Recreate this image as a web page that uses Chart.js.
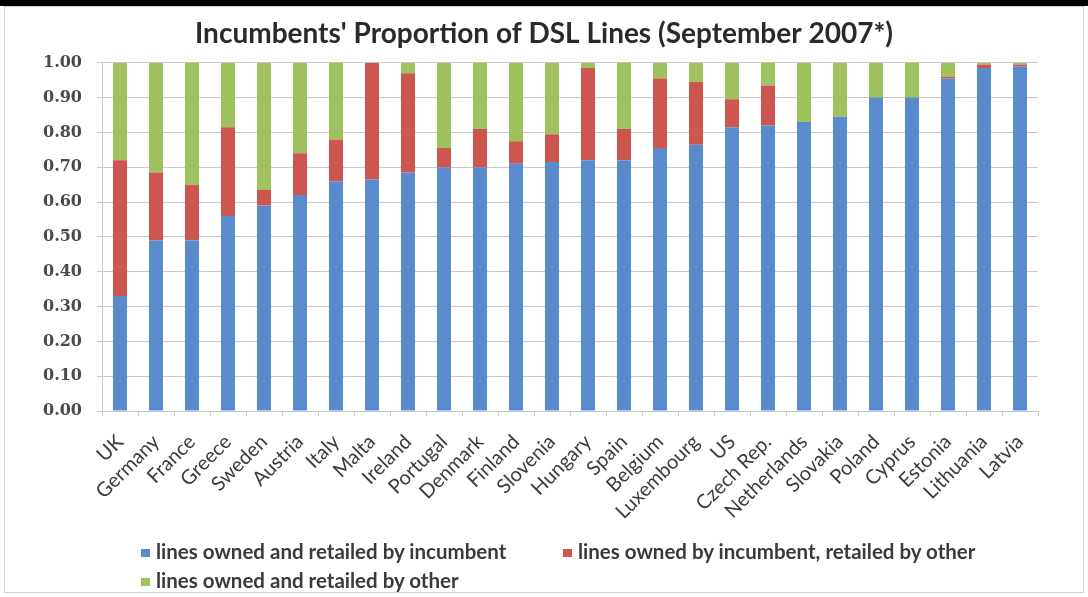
<!DOCTYPE html>
<html>
<head>
<meta charset="utf-8">
<title>Incumbents' Proportion of DSL Lines</title>
<script src="https://cdn.jsdelivr.net/npm/chart.js@4.4.1/dist/chart.umd.min.js"></script>
<style>
  html, body { margin: 0; padding: 0; background: #fff; }
  #wrap { position: relative; width: 1088px; height: 597px; overflow: hidden; }
  #topbar { position: absolute; left: 0; top: 0; width: 1088px; height: 6px; background: #000; }
  #frame { position: absolute; left: 4px; top: 6px; width: 1078px; height: 585px; border: 1px solid #d4d4d4; }
  #myChart { position: absolute; left: 0; top: 0; }
  .leg { position: absolute; font-family: Lato, sans-serif; font-size: 20.5px; font-weight: bold; color: #3a3a3a; white-space: nowrap; line-height: 22px; }
  .leg i { display: inline-block; width: 9px; height: 8px; margin-right: 6px; vertical-align: 2px; }
</style>
</head>
<body>
<div id="wrap">
  <div id="topbar"></div>
  <div id="frame"></div>
  <canvas id="myChart" width="1088" height="597"></canvas>
  <div id="legendBox"></div>
</div>
<script>
// countries, left to right
const countries = ['UK', 'Germany', 'France', 'Greece', 'Sweden', 'Austria', 'Italy', 'Malta', 'Ireland',
    'Portugal', 'Denmark', 'Finland', 'Slovenia', 'Hungary', 'Spain', 'Belgium', 'Luxembourg', 'US',
    'Czech Rep.', 'Netherlands', 'Slovakia', 'Poland', 'Cyprus', 'Estonia', 'Lithuania', 'Latvia'];

// share of lines
const ownedRetailedIncumbent = [0.33, 0.49, 0.49, 0.56, 0.59, 0.62, 0.66, 0.665, 0.685,
    0.70, 0.70, 0.71, 0.715, 0.72, 0.72, 0.755, 0.765, 0.815,
    0.82, 0.83, 0.845, 0.90, 0.90, 0.955, 0.985, 0.99];
const ownedIncumbentRetailedOther = [0.39, 0.195, 0.16, 0.255, 0.045, 0.12, 0.12, 0.335, 0.285,
    0.055, 0.11, 0.065, 0.08, 0.265, 0.09, 0.20, 0.18, 0.08,
    0.115, 0, 0, 0, 0, 0.005, 0.01, 0.005];
const ownedRetailedOther = [0.28, 0.315, 0.35, 0.185, 0.365, 0.26, 0.22, 0, 0.03,
    0.245, 0.19, 0.225, 0.205, 0.015, 0.19, 0.045, 0.055, 0.105,
    0.065, 0.17, 0.155, 0.10, 0.10, 0.04, 0.005, 0.005];

const seriesNames = ['lines owned and retailed by incumbent',
    'lines owned by incumbent, retailed by other',
    'lines owned and retailed by other'];
const seriesColors = ['#5a8bcc', '#cd5650', '#9fc15d'];

const yTicks = [0, 0.1, 0.2, 0.3, 0.4, 0.5, 0.6, 0.7, 0.8, 0.9, 1.0];

const gridColor = '#c9c9c9';

const ctx = document.getElementById('myChart').getContext('2d');

const myChart = new Chart(ctx, {
    type: 'bar',
    data: {
        labels: countries,
        datasets: [
            { label: seriesNames[0], data: ownedRetailedIncumbent, backgroundColor: seriesColors[0] },
            { label: seriesNames[1], data: ownedIncumbentRetailedOther, backgroundColor: seriesColors[1] },
            { label: seriesNames[2], data: ownedRetailedOther, backgroundColor: seriesColors[2] }
        ]
    },
    options: {
        responsive: false,
        animation: false,
        datasets: {
            bar: { barPercentage: 0.39, categoryPercentage: 1.0 }
        },
        layout: {
            padding: { left: 0, right: 0, top: 0, bottom: 66 }
        },
        plugins: {
            legend: { display: false },
            tooltip: { enabled: false },
            title: {
                display: true,
                text: "Incumbents' Proportion of DSL Lines (September 2007*)",
                color: '#2a2a2a',
                font: { family: 'Lato', size: 28, weight: 'bold', lineHeight: 1.1 },
                padding: { top: 19, bottom: 13 }
            }
        },
        scales: {
            x: {
                stacked: true,
                grid: {
                    offset: true,
                    drawOnChartArea: false,
                    drawTicks: true,
                    tickLength: 5,
                    color: gridColor
                },
                border: { color: gridColor },
                ticks: {
                    autoSkip: false,
                    minRotation: 45,
                    maxRotation: 45,
                    padding: 14,
                    color: '#3c3c3c',
                    font: { family: 'Lato', size: 20 }
                },
                afterFit: function (scale) {
                    scale.height = 120;
                }
            },
            y: {
                stacked: true,
                min: 0,
                max: 1,
                afterBuildTicks: function (scale) {
                    scale.ticks = yTicks.map(v => ({ value: v }));
                },
                grid: {
                    color: gridColor,
                    tickLength: 5
                },
                border: { color: gridColor },
                ticks: {
                    padding: 15,
                    color: '#4a4a4a',
                    font: { family: 'DejaVu Serif', size: 16, weight: 'bold' },
                    callback: function (value) {
                        return Number(value).toFixed(2);
                    }
                },
                afterFit: function (scale) {
                    scale.width = 102;
                }
            },
            // empty right-hand axis, only reserves the white margin on the right
            spacer: {
                type: 'linear',
                position: 'right',
                display: true,
                grid: { display: false },
                border: { display: false },
                ticks: { display: false },
                afterFit: function (scale) {
                    scale.width = 50;
                }
            }
        }
    }
});

// legend laid out like the original: two items on the first row, one on the second
const legendBox = document.getElementById('legendBox');
const legendSpots = [[141, 540], [563, 540], [141, 569]];
seriesNames.forEach((name, i) => {
    legendBox.innerHTML += `
        <div class="leg" style="left:${legendSpots[i][0]}px; top:${legendSpots[i][1]}px">
            <i style="background:${seriesColors[i]}"></i>${name}
        </div>`;
});
</script>
</body>
</html>
